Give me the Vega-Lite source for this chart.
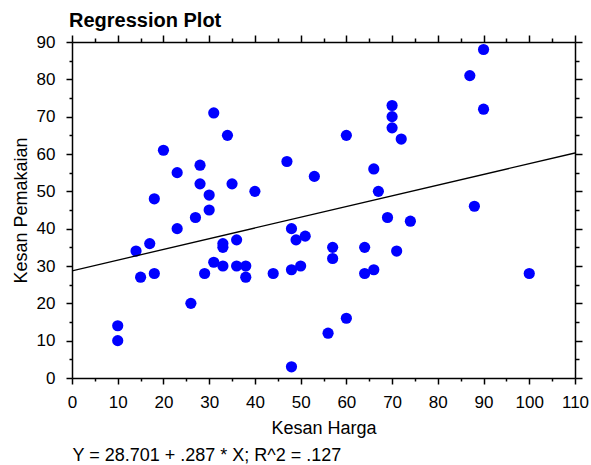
{
  "$schema": "https://vega.github.io/schema/vega-lite/v6.json",
  "width": 503,
  "height": 336,
  "autosize": {"type": "none"},
  "padding": {"left": 72, "top": 42, "right": 16, "bottom": 87},
  "background": "white",
  "title": {
    "text": "Regression Plot",
    "anchor": "start",
    "frame": "group",
    "font": "Liberation Sans",
    "fontSize": 20,
    "fontWeight": "bold",
    "color": "black",
    "baseline": "alphabetic",
    "offset": 9,
    "dx": -3,
    "dy": 23
  },
  "datasets": {
    "pts": [
      {"harga": 31, "pemakaian": 71}, {"harga": 34, "pemakaian": 65}, {"harga": 20, "pemakaian": 61},
      {"harga": 28, "pemakaian": 57}, {"harga": 47, "pemakaian": 58}, {"harga": 53, "pemakaian": 54},
      {"harga": 23, "pemakaian": 55}, {"harga": 28, "pemakaian": 52}, {"harga": 35, "pemakaian": 52},
      {"harga": 30, "pemakaian": 49}, {"harga": 40, "pemakaian": 50}, {"harga": 18, "pemakaian": 48},
      {"harga": 30, "pemakaian": 45}, {"harga": 90, "pemakaian": 88}, {"harga": 87, "pemakaian": 81},
      {"harga": 70, "pemakaian": 73}, {"harga": 70, "pemakaian": 70}, {"harga": 70, "pemakaian": 67},
      {"harga": 72, "pemakaian": 64}, {"harga": 90, "pemakaian": 72}, {"harga": 60, "pemakaian": 65},
      {"harga": 66, "pemakaian": 56}, {"harga": 67, "pemakaian": 50}, {"harga": 88, "pemakaian": 46},
      {"harga": 27, "pemakaian": 43}, {"harga": 23, "pemakaian": 40}, {"harga": 14, "pemakaian": 34},
      {"harga": 17, "pemakaian": 36}, {"harga": 15, "pemakaian": 27}, {"harga": 18, "pemakaian": 28},
      {"harga": 33, "pemakaian": 36}, {"harga": 33, "pemakaian": 35}, {"harga": 36, "pemakaian": 37},
      {"harga": 31, "pemakaian": 31}, {"harga": 33, "pemakaian": 30}, {"harga": 29, "pemakaian": 28},
      {"harga": 36, "pemakaian": 30}, {"harga": 38, "pemakaian": 30}, {"harga": 38, "pemakaian": 27},
      {"harga": 26, "pemakaian": 20}, {"harga": 10, "pemakaian": 14}, {"harga": 10, "pemakaian": 10},
      {"harga": 44, "pemakaian": 28}, {"harga": 48, "pemakaian": 40}, {"harga": 49, "pemakaian": 37},
      {"harga": 51, "pemakaian": 38}, {"harga": 48, "pemakaian": 29}, {"harga": 50, "pemakaian": 30},
      {"harga": 48, "pemakaian": 3}, {"harga": 69, "pemakaian": 43}, {"harga": 74, "pemakaian": 42},
      {"harga": 57, "pemakaian": 35}, {"harga": 57, "pemakaian": 32}, {"harga": 64, "pemakaian": 35},
      {"harga": 71, "pemakaian": 34}, {"harga": 64, "pemakaian": 28}, {"harga": 66, "pemakaian": 29},
      {"harga": 100, "pemakaian": 28}, {"harga": 60, "pemakaian": 16}, {"harga": 56, "pemakaian": 12}
    ],
    "fit": [
      {"harga": 0, "pemakaian": 28.701},
      {"harga": 110, "pemakaian": 60.271}
    ]
  },
  "layer": [
    {
      "data": {"name": "pts"},
      "mark": {"type": "circle", "color": "#0000FF", "opacity": 1, "size": 125},
      "encoding": {
        "x": {
          "field": "harga", "type": "quantitative",
          "scale": {"domain": [0, 110], "nice": false, "zero": false},
          "axis": {
            "orient": "bottom",
            "title": "Kesan Harga",
            "values": [0,5,10,15,20,25,30,35,40,45,50,55,60,65,70,75,80,85,90,95,100,105,110],
            "labelExpr": "datum.value % 10 === 0 ? datum.label : ''",
            "tickSize": {"condition": {"test": "datum.value % 10 === 0", "value": 6}, "value": 3},
            "labelPadding": 10,
            "labelFontSize": 17,
            "labelOverlap": false,
            "labelFlush": false,
            "labelBound": false,
            "titleFontSize": 18,
            "titleFontWeight": "normal",
            "titleBaseline": "alphabetic",
            "titleY": 55
          }
        },
        "y": {
          "field": "pemakaian", "type": "quantitative",
          "scale": {"domain": [0, 90], "nice": false, "zero": false},
          "axis": {
            "orient": "left",
            "title": "Kesan Pemakaian",
            "values": [0,5,10,15,20,25,30,35,40,45,50,55,60,65,70,75,80,85,90],
            "labelExpr": "datum.value % 10 === 0 ? datum.label : ''",
            "tickSize": {"condition": {"test": "datum.value % 10 === 0", "value": 6}, "value": 3},
            "labelPadding": 11,
            "labelFontSize": 17,
            "labelOverlap": false,
            "labelFlush": false,
            "labelBound": false,
            "titleFontSize": 18,
            "titleFontWeight": "normal",
            "titleBaseline": "alphabetic",
            "titleAngle": 270,
            "titleX": -46,
            "titleY": 168
          }
        }
      }
    },
    {
      "data": {"name": "fit"},
      "mark": {"type": "line", "color": "black", "strokeWidth": 1.3, "clip": true},
      "encoding": {
        "x": {
          "field": "harga", "type": "quantitative",
          "axis": {
            "orient": "top",
            "title": null,
            "labels": false,
            "values": [0,5,10,15,20,25,30,35,40,45,50,55,60,65,70,75,80,85,90,95,100,105,110],
            "tickSize": {"condition": {"test": "datum.value % 10 === 0", "value": 7}, "value": 4}
          }
        },
        "y": {
          "field": "pemakaian", "type": "quantitative",
          "axis": {
            "orient": "right",
            "title": null,
            "labels": false,
            "values": [0,5,10,15,20,25,30,35,40,45,50,55,60,65,70,75,80,85,90],
            "tickSize": {"condition": {"test": "datum.value % 10 === 0", "value": 7}, "value": 4}
          }
        }
      }
    },
    {
      "data": {"name": "fit"},
      "mark": {"type": "point", "opacity": 0},
      "encoding": {
        "x": {
          "field": "harga", "type": "quantitative",
          "axis": {
            "orient": "bottom",
            "domain": false,
            "ticks": false,
            "labels": false,
            "title": "Y = 28.701 + .287 * X; R^2 = .127",
            "titleFontSize": 18,
            "titleFontWeight": "normal",
            "titleAnchor": "start",
            "titleAlign": "left",
            "titleBaseline": "alphabetic",
            "titleX": 0,
            "titleY": 82
          }
        },
        "y": {"field": "pemakaian", "type": "quantitative", "axis": null}
      }
    }
  ],
  "resolve": {"axis": {"x": "independent", "y": "independent"}},
  "config": {
    "view": {"stroke": null},
    "axis": {
      "grid": false,
      "domainColor": "black",
      "domainWidth": 1.5,
      "tickColor": "black",
      "tickWidth": 1.5,
      "labelColor": "black",
      "titleColor": "black",
      "labelFont": "Liberation Sans",
      "titleFont": "Liberation Sans"
    }
  }
}
